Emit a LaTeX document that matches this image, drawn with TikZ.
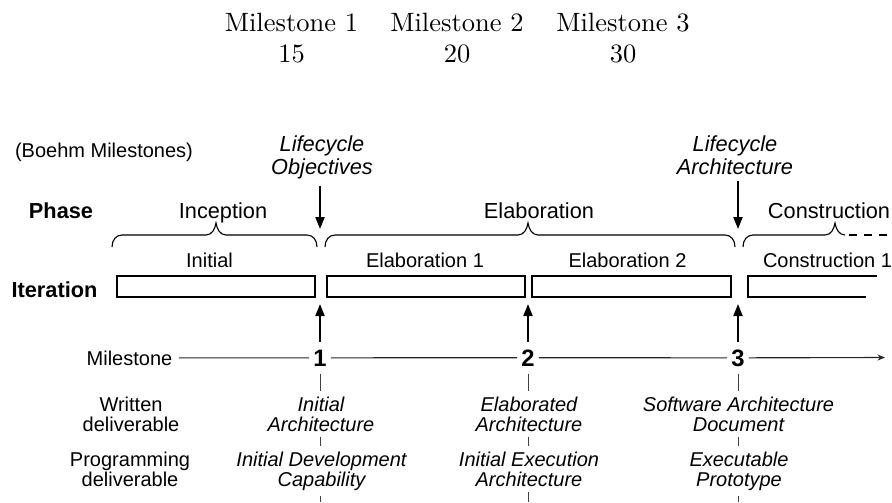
\documentclass[tikz,border=0pt]{standalone}
\usepackage{fontspec}
\newfontfamily\arialf{Liberation Sans}
\usetikzlibrary{arrows.meta}
\newcommand\mybrace[3]{%
  \draw[bracestyle] (#1,247) .. controls (#1,240) and ({#1+4},235) .. ({#1+10},235)
    -- ({#2-10},235) .. controls ({#2-4},235) and ({#2-1},229) .. (#2,223)
    .. controls ({#2+1},229) and ({#2+4},235) .. ({#2+10},235)
    -- ({#3-10},235) .. controls ({#3-4},235) and (#3,240) .. (#3,247);}
\begin{document}
\begin{tikzpicture}[x=0.4pt,y=-0.4pt,
  lm/.style={font=\fontsize{10.6}{12}\selectfont, inner sep=0pt},
  sm/.style={font=\arialf\fontsize{8}{7.8}\selectfont, align=center, inner xsep=1pt, inner ysep=2.3pt},
  smi/.style={sm, font=\arialf\itshape\fontsize{8}{7.8}\selectfont},
  big/.style={font=\arialf\fontsize{8.7}{8}\selectfont, align=center, inner sep=1pt},
  bigi/.style={big, font=\arialf\itshape\fontsize{8.7}{8}\selectfont, inner ysep=2.6pt},
  bigb/.style={big, font=\arialf\bfseries\fontsize{8.7}{8}\selectfont},
  num/.style={font=\arialf\bfseries\fontsize{9.5}{10}\selectfont, inner xsep=1.5pt, inner ysep=2.8pt},
  itbox/.style={draw, line width=0.8pt},
  bracestyle/.style={line width=0.45pt},
  bigarrow/.style={line width=0.8pt, -{Triangle[length=4.8pt,width=3.6pt]}},
  axis/.style={line width=0.45pt, black!85},
  tick/.style={line width=0.4pt, black!75},
]
\useasboundingbox (0,0) rectangle (892,502);
% top table
\node[lm,anchor=base] (t1) at (291.5,31) {Milestone 1};
\node[lm,anchor=base] (t2) at (457,31) {Milestone 2};
\node[lm,anchor=base] (t3) at (623,31) {Milestone 3};
\node[lm,anchor=base] (n1) at (291.5,62) {15};
\node[lm,anchor=base] (n2) at (457,62) {20};
\node[lm,anchor=base] (n3) at (623,62) {30};
% labels
\node[sm,anchor=base] (boehm) at (104,157) {(Boehm Milestones)};
\node[bigi,anchor=base] (lco) at (322,174) {Lifecycle\\Objectives};
\node[bigi,anchor=base] (lca) at (735,174) {Lifecycle\\Architecture};
\node[bigb,anchor=base] (phase) at (61,218) {Phase};
\node[big,anchor=base] (inc) at (223,218) {Inception};
\node[big,anchor=base] (ela) at (539,218) {Elaboration};
\node[big,anchor=base] (con) at (829,218) {Construction};
\node[bigb,anchor=base] (iter) at (54.5,297) {Iteration};
\node[sm,anchor=base] (i1) at (209.5,267) {Initial};
\node[sm,anchor=base] (i2) at (425,267) {Elaboration 1};
\node[sm,anchor=base] (i3) at (627.5,267) {Elaboration 2};
\node[sm,anchor=base] (i4) at (827.5,267) {Construction 1};
% braces
\mybrace{112}{216}{317}
\mybrace{325}{528}{735}
\draw[bracestyle] (743,247) .. controls (743,240) and (747,235) .. (753,235)
  -- (825,235) .. controls (831,235) and (834,229) .. (835,223)
  .. controls (836,229) and (839,235) .. (845,235);
\draw[bracestyle, dash pattern=on 3.2pt off 2.8pt] (849,235) -- (892,235);
% iteration boxes
\draw[itbox] (117,276) rectangle (315,297);
\draw[itbox] (326.5,276) rectangle (524.5,297);
\draw[itbox] (532,276) rectangle (731,297);
\draw[itbox] (876.5,276) -- (748,276) -- (748,297) -- (866,297);
% coordinates
\coordinate (g1t) at (320,229);
\coordinate (g3t) at (738,229);
\coordinate (g1b) at (320,304);
\coordinate (g2b) at (528,304);
\coordinate (g3b) at (738,304);
\coordinate (mend) at (885,357.5);
\coordinate (bot1) at (320,502);
\coordinate (bot2) at (528,502);
\coordinate (bot3) at (738,502);
% down arrows
\draw[bigarrow] (lco.south -| g1t) -- (g1t);
\draw[bigarrow] (lca.south -| g3t) -- (g3t);
% milestone row
\node[sm,anchor=base,inner xsep=2.4pt] (ml) at (129.5,365) {Milestone};
\node[num,anchor=base] (m1) at (320,366) {1};
\node[num,anchor=base] (m2) at (528,366) {2};
\node[num,anchor=base] (m3) at (738,366) {3};
\draw[axis] (ml) -- (m1) -- (m2) -- (m3);
\draw[axis, -{Stealth[length=3pt,width=2.4pt]}] (m3) -- (mend);
\draw[bigarrow] (m1) -- (g1b);
\draw[bigarrow] (m2) -- (g2b);
\draw[bigarrow] (m3) -- (g3b);
% deliverables
\node[sm,anchor=base] (wl) at (131,431) {Written\\deliverable};
\node[sm,anchor=base] (pl) at (130,486) {Programming\\deliverable};
\node[smi,anchor=base] (w1) at (321,431) {Initial\\Architecture};
\node[smi,anchor=base] (w2) at (529,431) {Elaborated\\Architecture};
\node[smi,anchor=base] (w3) at (738.5,431) {Software Architecture\\Document};
\node[smi,anchor=base] (p1) at (321.5,486) {Initial Development\\Capability};
\node[smi,anchor=base] (p2) at (529,486) {Initial Execution\\Architecture};
\node[smi,anchor=base] (p3) at (739,486) {Executable\\Prototype};
\draw[tick] (m1.south) -- (m1.south |- w1.north);
\draw[tick] (m2.south) -- (m2.south |- w2.north);
\draw[tick] (m3.south) -- (m3.south |- w3.north);
\draw[tick] (w1.south -| m1) -- (p1.north -| m1);
\draw[tick] (w2.south -| m2) -- (p2.north -| m2);
\draw[tick] (w3.south -| m3) -- (p3.north -| m3);
\draw[tick] (p1.south -| bot1) -- (bot1);
\draw[tick] (p2.south -| bot2) -- (bot2);
\draw[tick] (p3.south -| bot3) -- (bot3);
\end{tikzpicture}
\end{document}
